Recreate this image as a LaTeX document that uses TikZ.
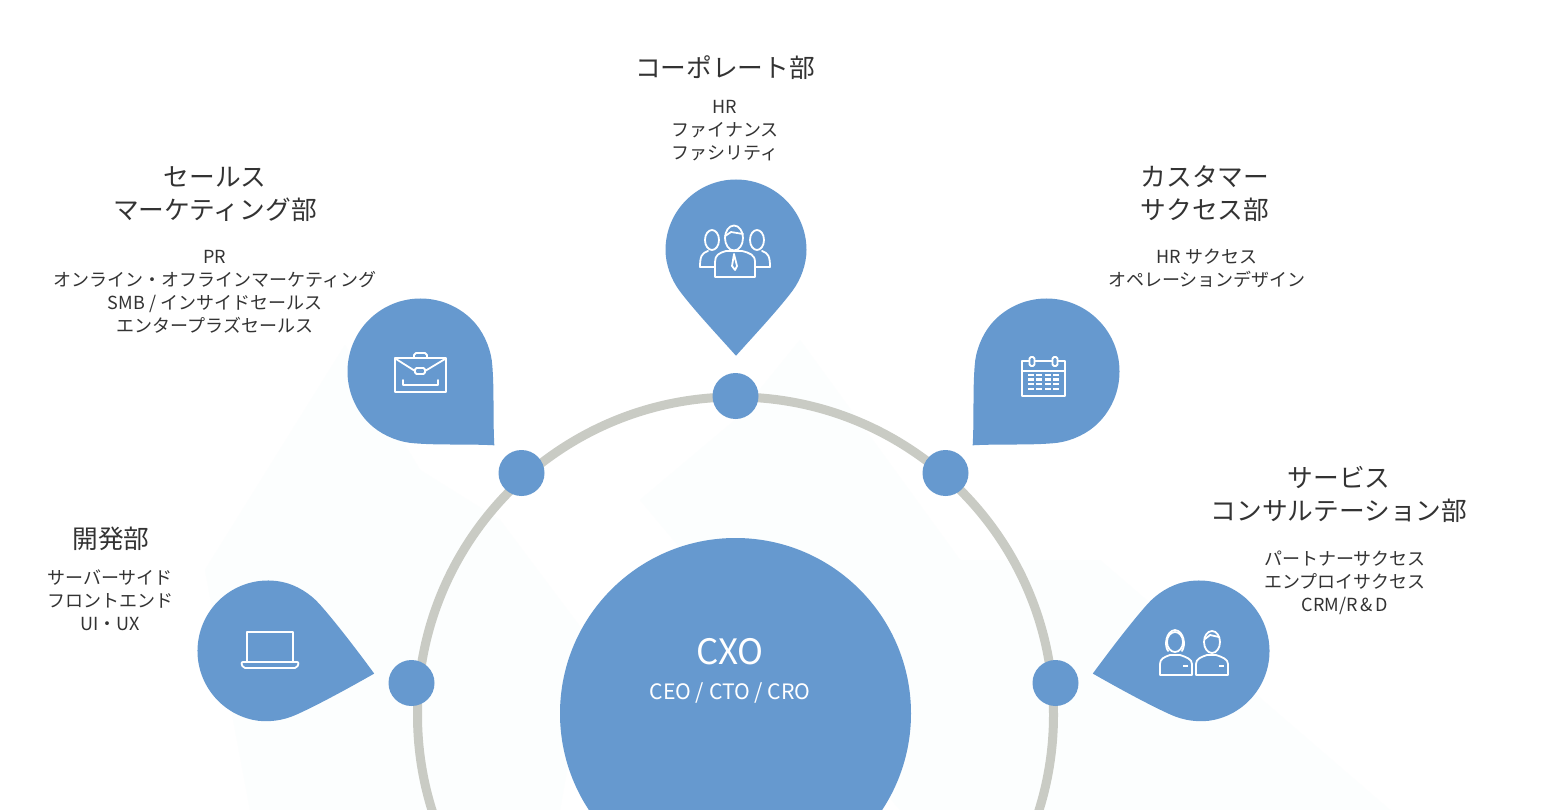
\documentclass[tikz,border=0pt]{standalone}
\usepackage{fontspec}
\setmainfont{Noto Sans CJK JP}
\definecolor{pinblue}{HTML}{6699CF}
\definecolor{ringgray}{HTML}{C9CBC4}
\definecolor{txtgray}{HTML}{333333}
\definecolor{palebg}{HTML}{FCFEFE}
\tikzset{
  pinfill/.style={fill=pinblue,draw=none},
  dotnode/.style={circle,fill=pinblue,draw=none,minimum size=46pt,inner sep=0pt},
  heading/.style={text=txtgray,align=center,inner sep=0pt,font=\fontsize{25.7}{33}\selectfont},
  detail/.style={text=txtgray,align=center,inner sep=0pt,font=\fontsize{18}{23}\selectfont},
  iconline/.style={draw=white,line width=1.8pt,line join=round,line cap=round},
  iconthick/.style={draw=white,line width=2.2pt},
}
\newcommand{\pinshape}[5]{% cx, cy, rot, r, tip factor
  \begin{scope}[shift={(#1,#2)},rotate=#3]
    \fill[pinfill] (0,{#5*#4})
      .. controls ({-0.25*#4},{(#5-0.28)*#4}) and ({-0.6*#4},{(0.58+0.178*#5)*#4}) .. ({-0.8*#4},{0.58*#4})
      .. controls ({-0.92*#4},{0.42*#4}) and ({-#4},{0.2*#4}) .. ({-#4},0)
      .. controls ({-#4},{-0.5523*#4}) and ({-0.5523*#4},{-#4}) .. (0,{-#4})
      .. controls ({0.5523*#4},{-#4}) and ({#4},{-0.5523*#4}) .. ({#4},0)
      .. controls ({#4},{0.2*#4}) and ({0.92*#4},{0.42*#4}) .. ({0.8*#4},{0.58*#4})
      .. controls ({0.6*#4},{(0.58+0.178*#5)*#4}) and ({0.25*#4},{(#5-0.28)*#4}) .. (0,{#5*#4}) -- cycle;
  \end{scope}}
\begin{document}
\begin{tikzpicture}[x=1pt,y=-1pt]
\useasboundingbox (0,0) rectangle (1542,810);
\clip (0,0) rectangle (1542,810);
\fill[white] (0,0) rectangle (1542,810);
% faint background peaks
\fill[palebg] (205,570) -- (345,345) -- (420,470) -- (500,520) -- (590,640) -- (560,810) -- (250,810) -- cycle;
\fill[palebg] (640,500) -- (735,420) -- (800,340) -- (960,560) -- (1100,560) -- (1390,810) -- (900,810) -- cycle;
% ring
\node[circle,draw=ringgray,line width=9pt,minimum size=636pt,inner sep=0pt,fill=none] (ring) at (735.5,715) {};
% centre
\node[circle,fill=pinblue,minimum size=351pt,inner sep=0pt] (cxo) at (735.5,713.5) {};
\node[text=white,inner sep=0pt,font=\fontsize{35}{40}\selectfont] (cxot) at (730,652) {CXO};
\node[text=white,inner sep=0pt,font=\fontsize{21.2}{24}\selectfont] (cxos) at (730,693) {CEO / CTO / CRO};
% dots
\node[dotnode] (d1) at (411.5,683) {};
\node[dotnode] (d2) at (521.5,473) {};
\node[dotnode] (d3) at (735.5,396) {};
\node[dotnode] (d4) at (945.5,473) {};
\node[dotnode] (d5) at (1055.5,683) {};
% pins
\pinshape{736}{250}{0}{70.5}{1.5}
\pinshape{420.5}{371.5}{45}{73}{1.43}
\pinshape{1046.5}{371.5}{-45}{73}{1.43}
\pinshape{268}{651}{78}{70.5}{1.54}
\pinshape{1199}{651}{-78}{70.5}{1.54}
% people icon
\draw[iconline] (734,238) ellipse (9 and 12.5);
\draw[iconline] (725,236) -- (731,232) -- (743,234);
\draw[iconline] (712,240) ellipse (7 and 10);
\draw[iconline] (757,240) ellipse (7 and 10);
\draw[iconline] (715,277) -- (755,277) -- (755,262) .. controls (755,255) and (750,253) .. (742,251) -- (726,251) .. controls (719,253) and (715,255) .. (715,262) -- cycle;
\draw[iconline] (734,254) -- (732,266) -- (735,270) -- (737,266) -- cycle;
\draw[iconline] (708,251) .. controls (702,253) and (700,256) .. (700,267) -- (715,267);
\draw[iconline] (762,251) .. controls (768,253) and (770,256) .. (770,267) -- (755,267);
% briefcase icon
\draw[iconline] (395,358) rectangle (446,392);
\draw[iconline] (414,358) -- (414,355) -- (416,353) -- (425,353) -- (427,355) -- (427,358);
\draw[iconline] (396,359) -- (415,371) (425,371) -- (445,359);
\draw[iconline,rounded corners=1.5pt] (415,368) rectangle (425,374);
\draw[iconline] (403,380) -- (403,385) -- (438,385) -- (438,380);
% calendar icon
\draw[iconline] (1022,361) rectangle (1065,396);
\draw[iconline] (1022,371) -- (1065,371);
\draw[iconline,fill=pinblue,rounded corners=1.5pt] (1029.5,357) rectangle (1034.5,366);
\draw[iconline,fill=pinblue,rounded corners=1.5pt] (1052.5,357) rectangle (1057.5,366);
\foreach \yy in {375,379.5,384,389}{
  \foreach \xx in {1028,1036,1045,1053}{
    \draw[iconthick] (\xx,\yy) -- ++(5.5,0);
  }}
% laptop icon
\draw[iconline] (247,661) -- (247,632) -- (293,632) -- (293,661);
\draw[iconline,rounded corners=2pt] (241,662) -- (299,662) -- (297,668) -- (243,668) -- cycle;
% two people icon
\draw[iconline] (1175,642) ellipse (8 and 10);
\draw[iconline] (1168,651) .. controls (1164,645) and (1166,631) .. (1175,630) .. controls (1184,631) and (1186,645) .. (1182,651);
\draw[iconline] (1160,675) -- (1192,675) -- (1192,664) .. controls (1192,659) and (1186,657) .. (1180,655) -- (1170,655) .. controls (1164,657) and (1160,659) .. (1160,664) -- cycle;
\draw[iconline] (1212,642) ellipse (8 and 11);
\draw[iconline] (1205,639) -- (1210,635) -- (1219,637);
\draw[iconline] (1196,675) -- (1228,675) -- (1228,664) .. controls (1228,659) and (1222,657) .. (1216,655) -- (1207,655) .. controls (1201,657) and (1196,659) .. (1196,664) -- cycle;
\draw[iconthick] (1183,666) -- (1188,666) (1219,666) -- (1224,666);
% texts
\node[heading] (t3) at (725,68) {コーポレート部};
\node[detail] (s3) at (725,130.5) {HR\\ファイナンス\\ファシリティ};
\node[heading] (t2) at (215,194) {セールス\\マーケティング部};
\node[detail] (s2) at (215,291.5) {PR\\オンライン・オフラインマーケティング\\SMB / インサイドセールス\\エンタープラズセールス};
\node[heading] (t4) at (1205,194) {カスタマー\\サクセス部};
\node[detail] (s4) at (1207,268.5) {HR サクセス\\オペレーションデザイン};
\node[heading] (t5) at (1339,494) {サービス\\コンサルテーション部};
\node[detail] (s5) at (1345,582.5) {パートナーサクセス\\エンプロイサクセス\\CRM/R\,\&\,D};
\node[heading] (t1) at (111,539) {開発部};
\node[detail] (s1) at (110,600) {サーバーサイド\\フロントエンド\\UI・UX};
\end{tikzpicture}
\end{document}
